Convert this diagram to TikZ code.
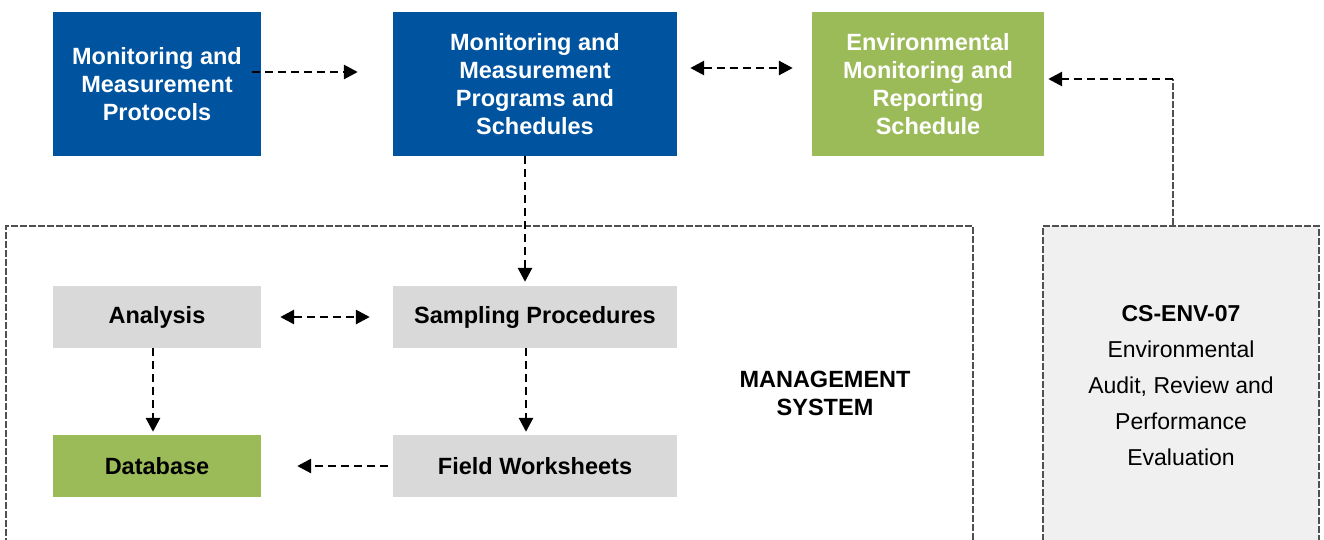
\documentclass[tikz,border=0pt]{standalone}
\usepackage{fontspec}
\setmainfont{Liberation Sans}
\usetikzlibrary{arrows.meta}
\definecolor{boxblue}{HTML}{00539F}
\definecolor{boxgreen}{HTML}{9BBB59}
\definecolor{boxgray}{HTML}{D9D9D9}
\definecolor{panelgray}{HTML}{F0F0F0}
\definecolor{bordergray}{HTML}{505050}
\tikzset{
  base/.style={rectangle, inner sep=0pt, align=center, font=\fontsize{23.5}{28}\selectfont\bfseries},
  bluebox/.style={base, fill=boxblue, text=white, minimum width=#1, minimum height=144},
  greenbig/.style={base, fill=boxgreen, text=white, minimum width=#1, minimum height=144},
  graybox/.style={base, fill=boxgray, text=black, minimum width=#1, minimum height=62},
  greensmall/.style={base, fill=boxgreen, text=black, minimum width=#1, minimum height=62},
  conn/.style={line width=2.8pt, dash pattern=on 8pt off 5pt, -{Triangle[length=14pt,width=14pt]}},
  biconn/.style={line width=2.8pt, dash pattern=on 8pt off 5pt, {Triangle[length=14pt,width=14pt]}-{Triangle[length=14pt,width=14pt]}},
  thinconn/.style={line width=1.3pt, dash pattern=on 7pt off 2pt, draw=bordergray},
  frame/.style={rectangle, inner sep=0pt, draw=bordergray, line width=1.3pt, dash pattern=on 7pt off 2pt}
}
\begin{document}
\begin{tikzpicture}[x=1pt,y=-1pt]
\useasboundingbox (0,0) rectangle (1324,539);
\begin{scope}
\clip (0,0) rectangle (1324,539);
% management system frame
\node[frame, minimum width=967, minimum height=319] (MS) at (489.5,385.5) {};
% CS-ENV-07 panel
\node[frame, fill=panelgray, minimum width=276, minimum height=319, align=center,
      font=\fontsize{23}{36}\selectfont] (R) at (1181,385.5)
  {\textbf{CS-ENV-07}\\Environmental\\Audit, Review and\\Performance\\Evaluation};
\end{scope}
\node[base] (MSlabel) at (825,393) {MANAGEMENT\\SYSTEM};

% top row
\node[bluebox=208] (A) at (157,84) {Monitoring and\\Measurement\\Protocols};
\node[bluebox=284] (B) at (535,84) {Monitoring and\\Measurement\\Programs and\\Schedules};
\node[greenbig=232] (C) at (928,84) {Environmental\\Monitoring and\\Reporting\\Schedule};

% inner boxes
\node[graybox=208] (AN) at (157,317) {Analysis};
\node[graybox=284] (SP) at (535,317) {Sampling Procedures};
\node[greensmall=208] (DB) at (157,466) {Database};
\node[graybox=284] (FW) at (535,466) {Field Worksheets};

% connectors
\draw[conn] ([xshift=-9pt,yshift=12pt]A.east) -- ([xshift=-35pt,yshift=12pt]B.west);
\draw[biconn] ([xshift=13pt,yshift=16pt]B.east) -- ([xshift=-19pt,yshift=16pt]C.west);
\coordinate (corner) at (1173,79);
\draw[thinconn] ([xshift=-8pt]R.north) -- (corner);
\draw[conn] (corner) -- ([xshift=4pt,yshift=5pt]C.east);
\draw[conn] ([xshift=-10pt]B.south) -- ([xshift=-10pt,yshift=4pt]SP.north);
\draw[biconn] ([xshift=19pt]AN.east) -- ([xshift=-23pt]SP.west);
\draw[conn] ([xshift=-4pt]AN.south) -- ([xshift=-4pt,yshift=3pt]DB.north);
\draw[conn] ([xshift=-9pt]SP.south) -- ([xshift=-9pt,yshift=3pt]FW.north);
\draw[conn] ([xshift=-5pt]FW.west) -- ([xshift=36pt]DB.east);
\end{tikzpicture}
\end{document}
